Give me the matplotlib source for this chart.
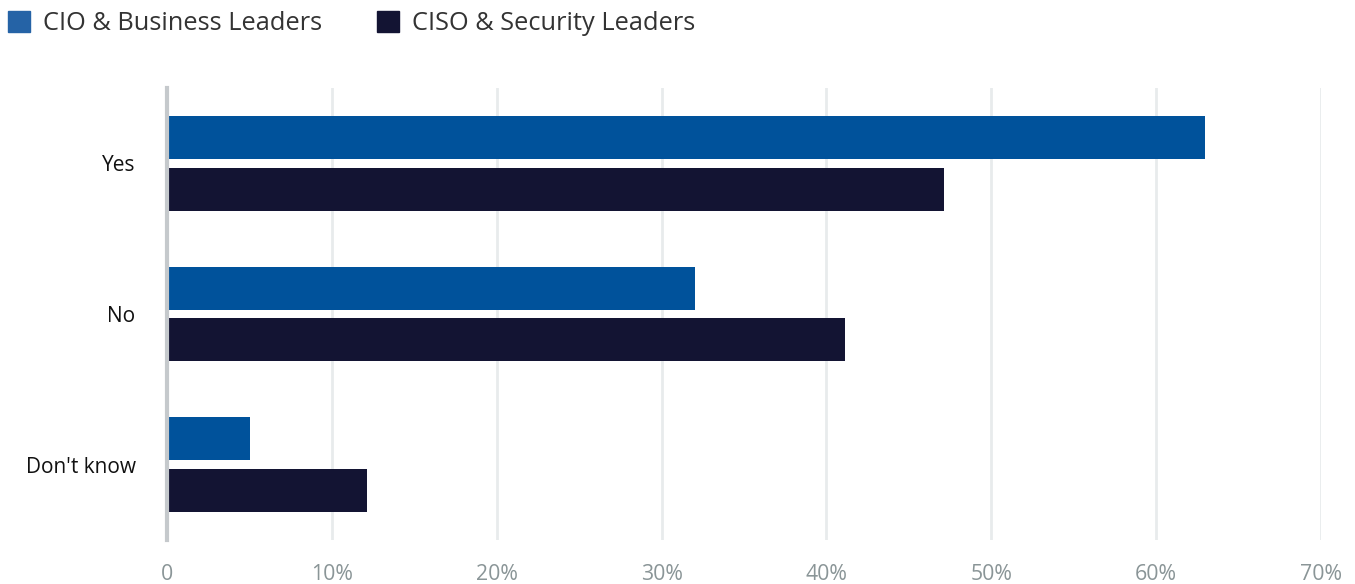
import matplotlib.pyplot as plt
from matplotlib.patches import Patch
import numpy as np

plt.rcParams['font.family'] = ['Open Sans', 'DejaVu Sans']

categories = ["Yes", "No", "Don't know"]
series_names = ["CIO & Business Leaders", "CISO & Security Leaders"]
cio_values = [63, 32, 5]
ciso_values = [47, 41, 12]
x_ticks = [0, 10, 20, 30, 40, 50, 60, 70]
x_tick_labels = ["0", "10%", "20%", "30%", "40%", "50%", "60%", "70%"]

cio_color = "#00529b"
ciso_color = "#131433"
grid_color = "#e8ebec"
tick_color = "#8a9597"

fig = plt.figure(figsize=(13.55, 5.84), dpi=100)
ax = fig.add_axes([0.1236, 0.0753, 0.8511, 0.774])

y = np.arange(len(categories))
bar_h = 0.286
offset = 0.172
ax.barh(y - offset, cio_values, height=bar_h, color=cio_color, zorder=3)
ax.barh(y + offset, ciso_values, height=bar_h, color=ciso_color, left=0.12, zorder=3)

ax.set_xlim(0, 70)
ax.set_ylim(2.5, -0.5)
ax.set_xticks(x_ticks)
ax.set_xticklabels(x_tick_labels, color=tick_color, fontsize=15.3)
ax.set_yticks(y)
ax.set_yticklabels(categories, color="#111111", fontsize=15)
ax.tick_params(axis='x', length=0, pad=17)
ax.tick_params(axis='y', length=0, pad=23)

for v in x_ticks[1:]:
    ax.axvline(v, color=grid_color, lw=2, zorder=1)
for s in ["top", "right", "bottom"]:
    ax.spines[s].set_visible(False)
ax.spines["left"].set_color("#c5c9cc")
ax.spines["left"].set_linewidth(3)
ax.spines["left"].set_zorder(4)

handles = [Patch(color="#2563a6"), Patch(color=ciso_color)]
fig.legend(handles, series_names, loc="upper left", bbox_to_anchor=(8 / 1355, 1 - 11 / 584),
           ncol=2, frameon=False, fontsize=18.3, handlelength=0.87, handleheight=0.87,
           handletextpad=0.51, columnspacing=2.17, borderpad=0, borderaxespad=0,
           labelcolor="#333333")

fig.savefig("out.png", dpi=100)
